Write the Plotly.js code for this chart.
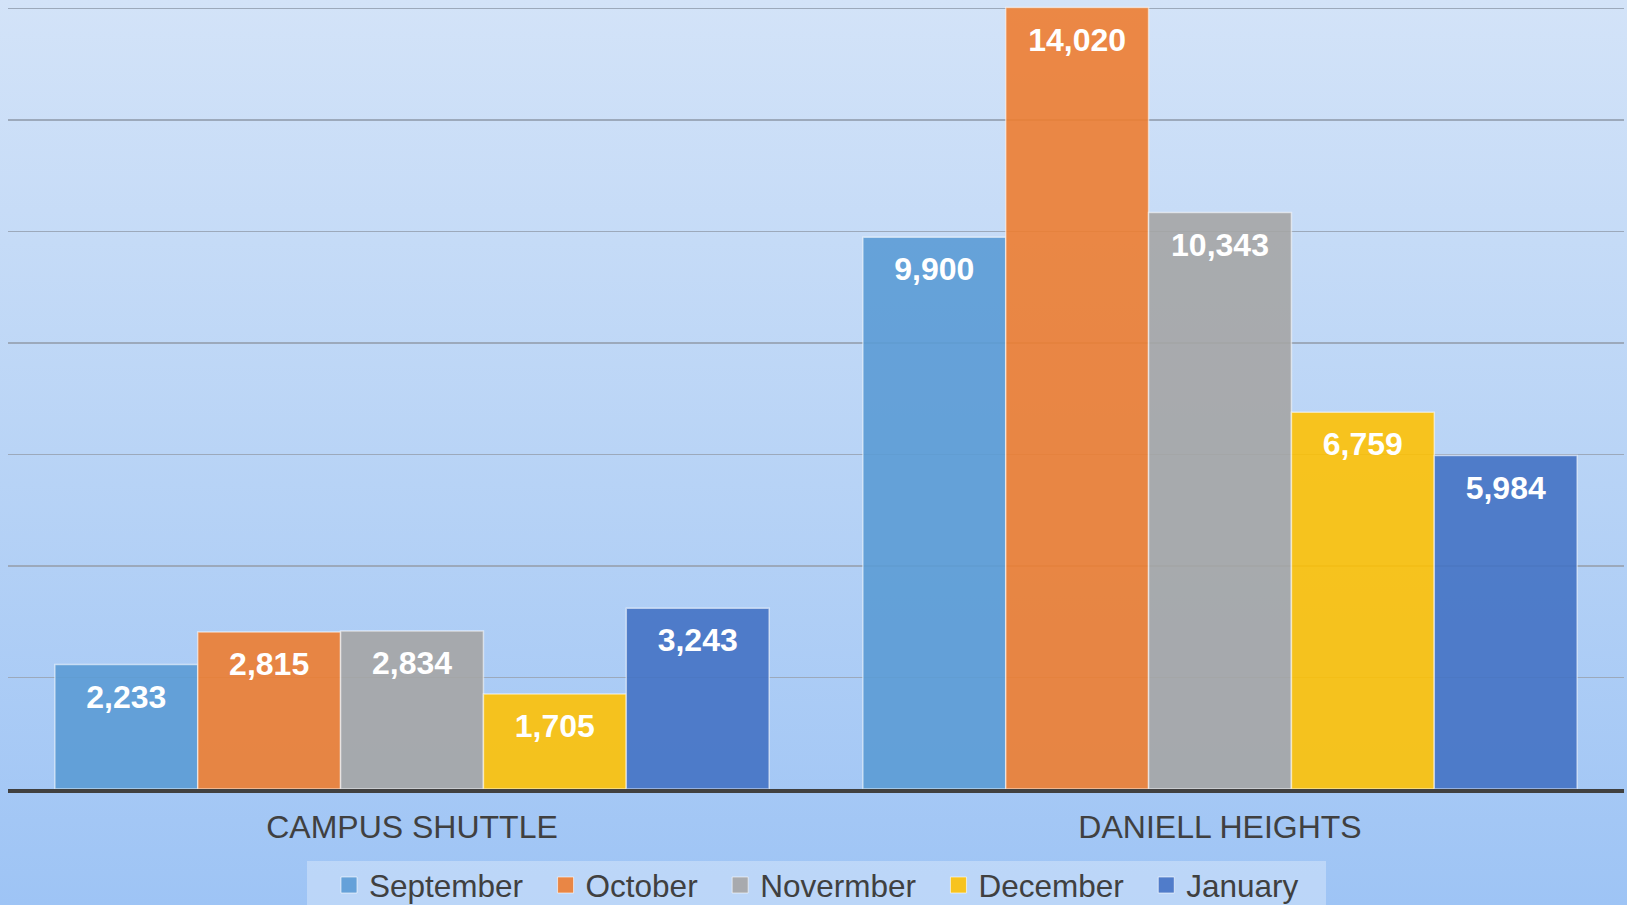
<!DOCTYPE html>
<html>
<head>
<meta charset="utf-8">
<script src="https://cdn.plot.ly/plotly-3.0.1.min.js"></script>
<style>
  html, body { margin: 0; padding: 0; }
  #chart {
    width: 1627px; height: 905px;
    background: linear-gradient(180deg, #d3e3f8 0%, #b9d4f6 50%, #9ec4f5 100%);
  }
</style>
</head>
<body>
<div id="chart"></div>
<script>
const categories = ["CAMPUS SHUTTLE", "DANIELL HEIGHTS"];
const seriesNames = ["September", "October", "Novermber", "December", "January"];
const september = [2233, 9900];
const october = [2815, 14020];
const november = [2834, 10343];
const december = [1705, 6759];
const january = [3243, 5984];
const seriesValues = [september, october, november, december, january];
const seriesColors = [
  "rgba(91,155,213,0.9)",
  "rgba(237,125,49,0.9)",
  "rgba(165,165,165,0.9)",
  "rgba(255,192,0,0.88)",
  "rgba(68,114,196,0.9)"
];

const FONT = "'Liberation Sans', Arial, sans-serif";
const BARGAP = 0.116;
const NBSP = "\u00a0\u00a0";

// plot-area geometry (px) used to place the legend box
const W = 1627, H = 905, ML = 8, MR = 3, MT = 3, MB = 116;
const PW = W - ML - MR, PH = H - MT - MB;
const toPX = px => (px - ML) / PW;
const toPY = py => (H - MB - py) / PH;

const traces = [];
// bars
seriesNames.forEach((name, i) => {
  traces.push({
    type: "bar",
    name: name,
    showlegend: false,
    x: categories,
    y: seriesValues[i],
    marker: { color: seriesColors[i], line: { color: "rgba(255,255,255,0.55)", width: 1.5 } },
    hoverinfo: "skip"
  });
});
// value labels, grouped to match the bars
seriesNames.forEach((name, i) => {
  traces.push({
    type: "scatter",
    mode: "markers+text",
    name: name + " labels",
    showlegend: false,
    x: categories,
    y: seriesValues[i],
    marker: { size: 29, color: "rgba(0,0,0,0)" },
    texttemplate: "%{y:,}",
    textposition: "bottom center",
    textfont: { family: FONT, size: 32, color: "#ffffff", weight: "bold" },
    cliponaxis: false,
    hoverinfo: "skip"
  });
});
// legend entries (on a hidden overlay axis pair so they do not affect grouping)
seriesNames.forEach((name, i) => {
  traces.push({
    type: "scatter",
    mode: "markers",
    name: i < seriesNames.length - 1 ? name + NBSP : name,
    x: [null],
    y: [null],
    xaxis: "x2",
    yaxis: "y2",
    marker: { symbol: "square", size: 16, color: seriesColors[i], line: { color: "rgba(255,255,255,0.6)", width: 1 } },
    hoverinfo: "skip"
  });
});

const layout = {
  width: W,
  height: H,
  paper_bgcolor: "rgba(0,0,0,0)",
  plot_bgcolor: "rgba(0,0,0,0)",
  margin: { l: ML, r: MR, t: MT, b: MB, pad: 0, autoexpand: false },
  barmode: "group",
  bargap: BARGAP,
  bargroupgap: 0,
  scattermode: "group",
  scattergap: BARGAP,
  font: { family: FONT, color: "#404040" },
  showlegend: true,
  legend: {
    orientation: "h",
    x: 0.5003,
    xanchor: "center",
    y: -0.0878,
    yanchor: "top",
    bgcolor: "rgba(0,0,0,0)",
    font: { family: FONT, size: 31.5, color: "#404040" },
    traceorder: "normal",
    itemsizing: "trace"
  },
  shapes: [{
    type: "rect",
    xref: "paper", yref: "paper",
    x0: toPX(307), x1: toPX(1326),
    y0: toPY(915), y1: toPY(861),
    fillcolor: "rgba(255,255,255,0.3)",
    line: { width: 0 },
    layer: "below"
  }],
  xaxis: {
    type: "category",
    showgrid: false,
    showline: true,
    linecolor: "#404040",
    linewidth: 3.5,
    layer: "above traces",
    zeroline: false,
    ticks: "",
    ticklabelstandoff: 7,
    tickfont: { family: FONT, size: 32, color: "#404040" }
  },
  yaxis: {
    range: [0, 14100],
    dtick: 2000,
    showticklabels: false,
    showgrid: true,
    gridcolor: "#9ca9bb",
    gridwidth: 1.6,
    zeroline: false,
    showline: false,
    fixedrange: true
  },
  xaxis2: { overlaying: "x", visible: false, range: [0, 1] },
  yaxis2: { overlaying: "y", visible: false, range: [0, 1] }
};

Plotly.newPlot("chart", traces, layout, { displayModeBar: false, staticPlot: true });
</script>
</body>
</html>
